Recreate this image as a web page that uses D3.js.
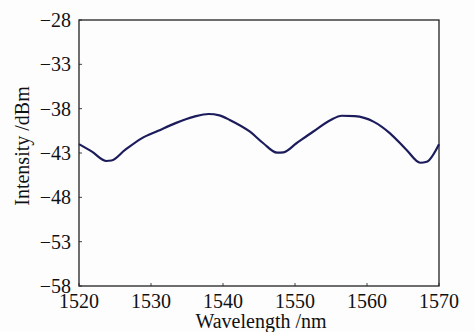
<!DOCTYPE html>
<html lang="en">
<head>
    <meta charset="UTF-8">
    <title>Intensity vs wavelength</title>
    <style>
        body { margin: 0; background: #fdfdfd; }
        svg { display: block; }
        svg text { font-family: "Liberation Serif", "DejaVu Serif", serif; fill: #111; }
        svg .tick-label { font-size: 20px; }
        svg .title { font-size: 20px; }
        svg .frame { fill: none; stroke: #222; stroke-width: 1.3px; }
        svg .tick { stroke: #444; stroke-width: 1px; }
        svg .trace { fill: none; stroke: #1c1c5c; stroke-width: 2.2px; stroke-linejoin: round; }
    </style>
</head>
<body>
<div id="chart"></div>
<script src="https://cdnjs.cloudflare.com/ajax/libs/d3/7.8.5/d3.min.js"></script>
<script>
  // wavelength in nm, intensity in dBm
  var wavelengths = [1520, 1521.8, 1523.8, 1524.5, 1526.4, 1528.7, 1531, 1533.5, 1536, 1538, 1539.5,
    1541, 1543.75, 1545.6, 1547.5, 1548.4, 1550.2, 1552.5, 1554.9, 1556.5, 1558.3, 1560.9,
    1563.2, 1565.5, 1567.4, 1568.3, 1570];
  var intensities = [-42.0, -42.85, -43.9, -43.85, -42.66, -41.35, -40.5, -39.6, -38.9, -38.6, -38.75,
    -39.3, -40.6, -41.9, -42.96, -42.92, -41.9, -40.6, -39.3, -38.8, -38.85, -39.46,
    -40.78, -42.66, -44.1, -43.98, -42.0];
  var xTicks = [1520, 1530, 1540, 1550, 1560, 1570];
  var yTicks = [-28, -33, -38, -43, -48, -53, -58];

  var width = 475,
    height = 332,
    margin = {top: 20, right: 36, bottom: 46, left: 79},
    innerWidth = width - margin.left - margin.right,
    innerHeight = height - margin.top - margin.bottom;

  var svg = d3.select('#chart').append('svg')
    .attr('width', width)
    .attr('height', height);

  var canvas = svg.append('g')
    .attr('transform', 'translate(' + margin.left + ',' + margin.top + ')');

  var x = d3.scaleLinear().domain([1520, 1570]).range([0, innerWidth]);
  var y = d3.scaleLinear().domain([-58, -28]).range([innerHeight, 0]);

  var data = wavelengths.map(function(w, i) {
    return {w: w, v: intensities[i]};
  });

  // ticks point inward
  xTicks.forEach(function(t) {
    canvas.append('line').attr('class', 'tick')
      .attr('x1', x(t)).attr('x2', x(t))
      .attr('y1', innerHeight).attr('y2', innerHeight - 3);
    canvas.append('text').attr('class', 'tick-label')
      .attr('x', x(t)).attr('y', innerHeight + 22)
      .attr('text-anchor', 'middle')
      .text(t);
  });

  yTicks.forEach(function(t) {
    canvas.append('line').attr('class', 'tick')
      .attr('x1', 0).attr('x2', 3)
      .attr('y1', y(t)).attr('y2', y(t));
    canvas.append('text').attr('class', 'tick-label')
      .attr('x', -8).attr('y', y(t))
      .attr('dy', '0.35em')
      .attr('text-anchor', 'end')
      .text(String(t).replace('-', '\u2212'));
  });

  canvas.append('rect').attr('class', 'frame')
    .attr('x', 0).attr('y', 0)
    .attr('width', innerWidth).attr('height', innerHeight);

  var line = d3.line()
    .x(function(d) { return x(d.w); })
    .y(function(d) { return y(d.v); })
    .curve(d3.curveMonotoneX);

  canvas.append('path').attr('class', 'trace')
    .datum(data)
    .attr('d', line);

  svg.append('text').attr('class', 'title')
    .attr('x', margin.left + innerWidth / 2 + 2)
    .attr('y', height - 4)
    .attr('text-anchor', 'middle')
    .text('Wavelength /nm');

  svg.append('g')
    .attr('transform', 'translate(29,' + (margin.top + 126) + ') rotate(-90)')
    .append('text').attr('class', 'title')
    .attr('text-anchor', 'middle')
    .text('Intensity /dBm');
</script>
</body>
</html>
